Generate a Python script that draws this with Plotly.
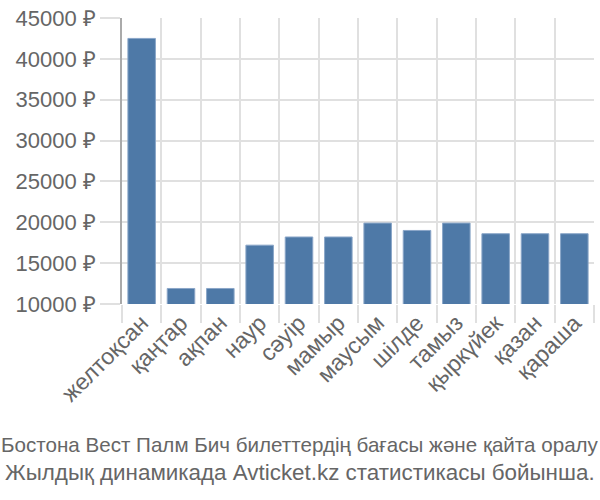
import plotly.graph_objects as go

months = ["желтоқсан", "қаңтар", "ақпан", "наур", "сәуір", "мамыр", "маусым",
          "шілде", "тамыз", "қыркүйек", "қазан", "қараша"]
prices = [42500, 11900, 11900, 17200, 18200, 18200, 19900, 19000, 19900, 18600, 18600, 18600]
y_ticks = [10000, 15000, 20000, 25000, 30000, 35000, 40000, 45000]
y_tick_labels = [f"{v} ₽" for v in y_ticks]
title_lines = ["Бостона Вест Палм Бич билеттердің бағасы және қайта оралу",
               "Жылдық динамикада Avticket.kz статистикасы бойынша."]

fig = go.Figure(go.Bar(
    x=months, y=prices,
    marker=dict(color="#4e79a7", line=dict(color="#8aa6c8", width=1)),
))

# plot area: x 122..594, y 14..304
cx = (300 - 122) / 472
fig.update_layout(
    width=600, height=500,
    margin=dict(l=122, r=6, t=14, b=196),
    paper_bgcolor="white", plot_bgcolor="white",
    bargap=0.3,
    showlegend=False,
    font=dict(family="Liberation Sans, Arial, sans-serif", color="#666666", size=22),
    annotations=[
        dict(text=title_lines[0], xref="paper", yref="paper", x=cx, y=(304 - 446) / 290,
             xanchor="center", yanchor="middle", showarrow=False,
             font=dict(size=20.6, color="#666666")),
        dict(text=title_lines[1], xref="paper", yref="paper", x=cx, y=(304 - 475) / 290,
             xanchor="center", yanchor="middle", showarrow=False,
             font=dict(size=22.4, color="#666666")),
    ],
)
fig.update_xaxes(
    type="category", tickson="boundaries",
    showgrid=True, gridcolor="#e0e0e0", gridwidth=1.5,
    ticks="outside", ticklen=18, tickcolor="#e0e0e0", tickwidth=1.5,
    tickangle=-45, tickfont=dict(size=23, color="#666666"),
    showline=False, zeroline=False,
)
fig.update_yaxes(
    range=[10000, 45000], tickvals=y_ticks, ticktext=y_tick_labels,
    showgrid=True, gridcolor="#e0e0e0", gridwidth=1.5,
    ticks="outside", ticklen=20, tickcolor="#e0e0e0", tickwidth=1.5,
    showline=True, linecolor="#aaaaaa", linewidth=1.5,
    zeroline=False, tickfont=dict(size=22, color="#666666"),
)
fig.write_html("out.html")
